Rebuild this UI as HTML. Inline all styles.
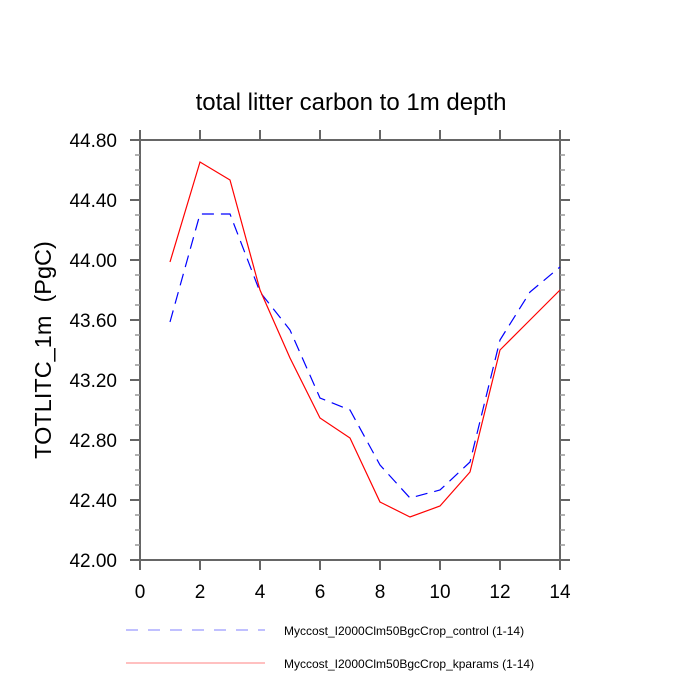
<!DOCTYPE html>
<html><head><meta charset="utf-8"><style>body{margin:0;background:#fff}svg{display:block}</style></head>
<body>
<svg width="700" height="700" xmlns="http://www.w3.org/2000/svg" font-family="Liberation Sans, sans-serif">
<rect width="700" height="700" fill="#fff"/>
<text x="351" y="110" font-size="24" text-anchor="middle">total litter carbon to 1m depth</text>
<g stroke="#666" stroke-width="2" fill="none">
<rect x="140" y="140" width="420" height="420"/>
<path d="M140 560v10M200 560v10M260 560v10M320 560v10M380 560v10M440 560v10M500 560v10M560 560v10
M140 140v-10M200 140v-10M260 140v-10M320 140v-10M380 140v-10M440 140v-10M500 140v-10M560 140v-10
M140 140h-10M140 200h-10M140 260h-10M140 320h-10M140 380h-10M140 440h-10M140 500h-10M140 560h-10
M560 140h10M560 200h10M560 260h10M560 320h10M560 380h10M560 440h10M560 500h10M560 560h10"/>
</g>
<g stroke="#999" stroke-width="1.5">
<path d="M140 155h-5M140 170h-5M140 185h-5M140 215h-5M140 230h-5M140 245h-5M140 275h-5M140 290h-5M140 305h-5M140 335h-5M140 350h-5M140 365h-5M140 395h-5M140 410h-5M140 425h-5M140 455h-5M140 470h-5M140 485h-5M140 515h-5M140 530h-5M140 545h-5
M560 155h5M560 170h5M560 185h5M560 215h5M560 230h5M560 245h5M560 275h5M560 290h5M560 305h5M560 335h5M560 350h5M560 365h5M560 395h5M560 410h5M560 425h5M560 455h5M560 470h5M560 485h5M560 515h5M560 530h5M560 545h5"/>
</g>
<g font-size="19" text-anchor="end">
<text x="117" y="147">44.80</text><text x="117" y="207">44.40</text><text x="117" y="267">44.00</text><text x="117" y="327">43.60</text><text x="117" y="387">43.20</text><text x="117" y="447">42.80</text><text x="117" y="507">42.40</text><text x="117" y="567">42.00</text>
</g>
<g font-size="19" text-anchor="middle">
<text x="140" y="598">0</text><text x="200" y="598">2</text><text x="260" y="598">4</text><text x="320" y="598">6</text><text x="380" y="598">8</text><text x="440" y="598">10</text><text x="500" y="598">12</text><text x="560" y="598">14</text>
</g>
<text transform="translate(51,350) rotate(-90)" font-size="23.5" text-anchor="middle" style="white-space:pre">TOTLITC_1m  (PgC)</text>
<polyline fill="none" stroke="#0000ff" stroke-width="1.2" stroke-dasharray="12,7" points="170,322 200,214 230,214 260,292 290,330 320,398 350,410 380,465 410,498 440,490 470,462 500,340 530,292 560,267"/>
<polyline fill="none" stroke="#ff0000" stroke-width="1.2" points="170,262 200,162 230,180 260,290 290,358 320,418 350,438 380,502 410,517 440,506 470,472 500,350 530,320 560,290"/>
<line x1="126" y1="630" x2="265" y2="630" stroke="#8080ff" stroke-width="1" stroke-dasharray="12,10"/>
<line x1="126" y1="663" x2="265" y2="663" stroke="#ff8080" stroke-width="1"/>
<g font-size="12"><text x="284" y="635">Myccost_I2000Clm50BgcCrop_control (1-14)</text><text x="284" y="668">Myccost_I2000Clm50BgcCrop_kparams (1-14)</text></g>
</svg>
</body></html>
